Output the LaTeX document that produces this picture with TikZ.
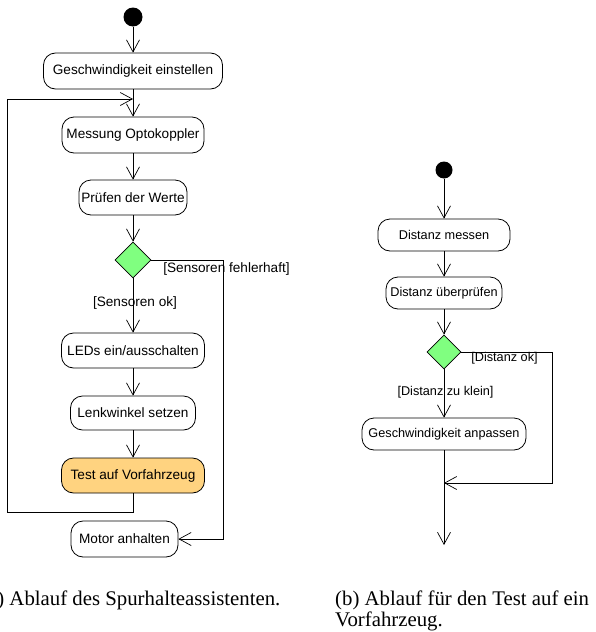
\documentclass[tikz,border=0pt]{standalone}
\usepackage{fontspec}
\setmainfont{Liberation Serif}
\setsansfont{Liberation Sans}
\usetikzlibrary{arrows.meta,shapes.geometric}

\begin{document}
\begin{tikzpicture}[x=1pt,y=-1pt,
	aktion/.style={draw,rounded corners=12pt,line width=0.8pt,inner xsep=2pt,font=\sffamily\fontsize{13.6}{15}\selectfont},
	aktionb/.style={aktion,minimum height=32pt,font=\sffamily\fontsize{12.7}{14}\selectfont},
	entscheidung/.style={draw,diamond,fill=gruen,line width=0.8pt,inner sep=0pt,minimum width=#1,minimum height=#1},
	startpunkt/.style={circle,fill=black,inner sep=0pt,minimum size=#1},
	pfeil/.style={line width=0.7pt,-{Straight Barb[length=12pt,width=13pt,line width=0.7pt]}},
	linie/.style={line width=0.7pt},
	waechter/.style={inner sep=0pt,font=\sffamily\fontsize{13.6}{15}\selectfont},
	waechterb/.style={inner sep=0pt,font=\sffamily\fontsize{12.7}{14}\selectfont},
	unterschrift/.style={inner sep=0pt,font=\fontsize{20.8}{21}\selectfont}]
			\definecolor{gruen}{RGB}{128,255,128}
			\definecolor{orange}{RGB}{255,211,128}
			\useasboundingbox (0,0) rectangle (595,632);
			\clip (0,0) rectangle (595,632);
			%\draw[help lines,step=20] (0,0) grid (595,632);

			% (a) spurhalteassistent
			\node[startpunkt=19pt] (start1) at (133,17) {};
			\node[aktion,minimum width=179pt,minimum height=36pt] (gesch) at (133,71) {Geschwindigkeit einstellen};
			\node[aktion,minimum width=142pt,minimum height=36pt] (mess) at (133,135) {Messung Optokoppler};
			\node[aktion,minimum width=108pt,minimum height=35pt] (pruef) at (133,197.5) {Prüfen der Werte};
			\node[entscheidung=36pt] (ent1) at (133,260) {};
			\node[aktion,minimum width=143pt,minimum height=35pt] (leds) at (133,350.5) {LEDs ein/ausschalten};
			\node[aktion,minimum width=125pt,minimum height=34pt] (lenk) at (133,413) {Lenkwinkel setzen};
			\node[aktion,fill=orange,minimum width=143pt,minimum height=35pt] (test) at (133,475.5) {Test auf Vorfahrzeug};
			\node[aktion,minimum width=107pt,minimum height=36pt] (motor) at (124.5,539) {Motor anhalten};
			\coordinate (merge1) at (133,99);
			\coordinate (links1) at (7,512);
			\coordinate (rechts1) at (223,539);

			\draw[pfeil] (start1) -- (gesch);
			\draw[pfeil] (gesch) -- (mess);
			\draw[pfeil] (mess) -- (pruef);
			\draw[pfeil] (pruef) -- (ent1);
			\draw[pfeil] (ent1) -- (leds);
			\draw[pfeil] (leds) -- (lenk);
			\draw[pfeil] (lenk) -- (test);
			\draw[pfeil] (test.south) |- (links1) |- (merge1);
			\draw[pfeil] (ent1.east) -| (rechts1) -- (motor.east);
			\node[waechter] (ok1) at (135,303) {[Sensoren ok]};
			\node[waechter] (fehler1) at (226.5,269) {[Sensoren fehlerhaft]};

			% (b) test auf vorfahrzeug
			\node[startpunkt=17pt] (start2) at (444,170) {};
			\node[aktionb,minimum width=132pt] (dmess) at (444,235) {Distanz messen};
			\node[aktionb,minimum width=116pt] (dpruef) at (444,293) {Distanz überprüfen};
			\node[entscheidung=34pt] (ent2) at (444,352) {};
			\node[aktionb,minimum width=164pt] (anpass) at (444,434) {Geschwindigkeit anpassen};
			\coordinate (merge2) at (444,483);
			\coordinate (rechts2) at (552,483);
			\coordinate (ende2) at (444,545);

			\draw[pfeil] (start2) -- (dmess);
			\draw[pfeil] (dmess) -- (dpruef);
			\draw[pfeil] (dpruef) -- (ent2);
			\draw[pfeil] (ent2) -- (anpass);
			\draw[pfeil] (anpass) -- (ende2);
			\draw[pfeil] (ent2.east) -| (rechts2) -- (merge2);
			\node[waechterb] (ok2) at (504.5,358) {[Distanz ok]};
			\node[waechterb] (klein2) at (445.5,392) {[Distanz zu klein]};

			% unterschriften
			\node[unterschrift,anchor=base west] (capa) at (-19,605) {(a) Ablauf des Spurhalteassistenten.};
			\node[unterschrift,anchor=north west,align=left] (capb) at (335,590.5) {(b) Ablauf für den Test auf ein\\Vorfahrzeug.};
\end{tikzpicture}
\end{document}
